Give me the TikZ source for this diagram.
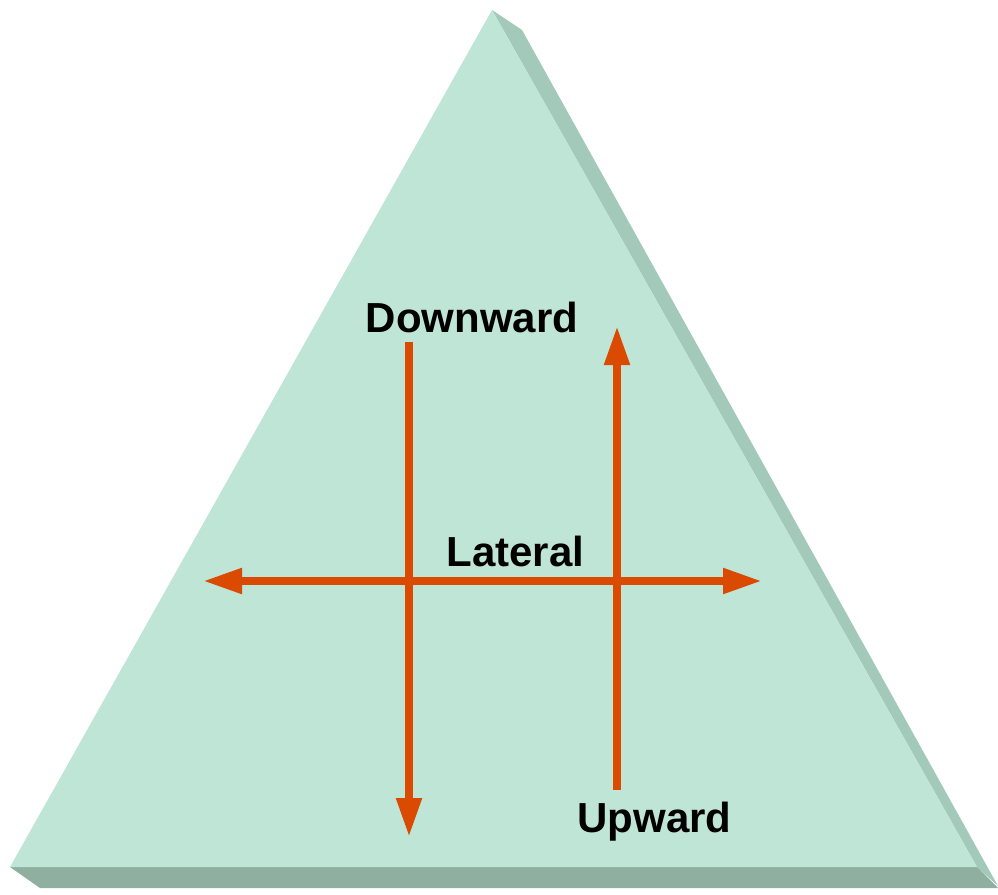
\documentclass[tikz,border=0pt]{standalone}
\usepackage{fontspec}
\setmainfont{Liberation Sans}
\usetikzlibrary{arrows.meta}
\definecolor{frontc}{RGB}{191,229,215}
\definecolor{sidec}{RGB}{163,201,186}
\definecolor{bottomc}{RGB}{143,175,160}
\definecolor{arrowc}{RGB}{218,74,0}
\tikzset{
  dirarrow/.style={draw=arrowc, line width=8pt, -{Triangle[length=39pt,width=24pt]}, arrowc},
  dirarrows/.style={draw=arrowc, line width=8pt, {Triangle[length=39pt,width=24pt]}-{Triangle[length=39pt,width=24pt]}, arrowc},
  lbl/.style={font=\bfseries\fontsize{42}{42}\selectfont, text=black, inner sep=0pt, anchor=base}
}
\begin{document}
\begin{tikzpicture}[x=1pt,y=-1pt]
\useasboundingbox (0,0) rectangle (998,894);
% faces of the prism
\fill[sidec] (492,10) -- (522,30) -- (998,886) -- (977,867) -- cycle;
\fill[bottomc] (10,867) -- (977,867) -- (998,888) -- (40,888) -- cycle;
\fill[frontc] (492,10) -- (977,867) -- (10,867) -- cycle;
% arrow end points
\coordinate (dtop) at (409,342);
\coordinate (dbot) at (409,837);
\coordinate (ubot) at (617,790);
\coordinate (utop) at (617,326);
\coordinate (lleft) at (203,581);
\coordinate (lright) at (762,581);
\draw[dirarrow] (dtop) -- (dbot);
\draw[dirarrow] (ubot) -- (utop);
\draw[dirarrows] (lleft) -- (lright);
% labels
\node[lbl] (down) at (472,332) {Downward};
\node[lbl] (lat) at (515.5,566) {Lateral};
\node[lbl] (up) at (654.5,832) {Upward};
\end{tikzpicture}
\end{document}
